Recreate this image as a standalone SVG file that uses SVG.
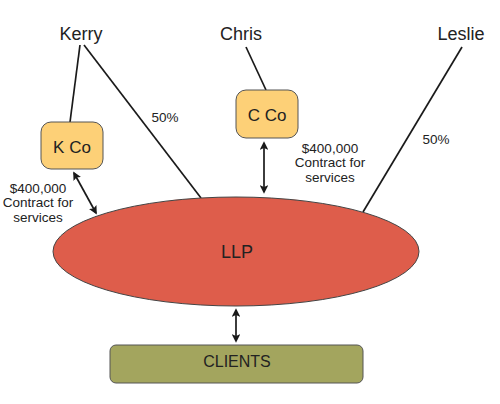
<svg xmlns="http://www.w3.org/2000/svg" width="500" height="404" viewBox="0 0 500 404">
<defs>
<style>
text{font-family:"Liberation Sans",Arial,sans-serif;fill:#222;text-anchor:middle}
.name{font-size:18px}
.co{fill:#FDD077;stroke:#555;stroke-width:1}
.lbl{font-size:13.5px}
.ln{stroke:#1a1a1a;stroke-width:1.7;fill:none}
.ar{stroke:#1a1a1a;stroke-width:1.7;fill:none;marker-start:url(#ah);marker-end:url(#ah)}
</style>
<marker id="ah" viewBox="0 0 10 10" refX="8" refY="5" markerWidth="5" markerHeight="5" orient="auto-start-reverse" markerUnits="strokeWidth">
<path d="M0,0 L10,5 L0,10 L2,5 Z" fill="#1a1a1a"/>
</marker>
</defs>
<rect width="500" height="404" fill="#fff"/>
<g id="connectors">
<line class="ln" x1="80" y1="45" x2="70" y2="122"/>
<line class="ln" x1="84" y1="45" x2="201" y2="198"/>
<line class="ln" x1="246" y1="47" x2="266" y2="90"/>
<line class="ln" x1="462" y1="47" x2="363" y2="212"/>
<line class="ar" x1="74" y1="173" x2="96" y2="213"/>
<line class="ar" x1="264" y1="143" x2="264" y2="192"/>
<line class="ar" x1="236" y1="310" x2="236" y2="341"/>
<text class="lbl" x="165" y="122">50%</text>
<text class="lbl" x="436" y="144">50%</text>
<text class="lbl"><tspan x="38" y="192.5">$400,000</tspan><tspan x="38" y="207">Contract for</tspan><tspan x="38" y="221.5">services</tspan></text>
<text class="lbl"><tspan x="330" y="152.5">$400,000</tspan><tspan x="330" y="167">Contract for</tspan><tspan x="330" y="181.5">services</tspan></text>
</g>
<g id="kerry"><text class="name" x="81" y="40">Kerry</text></g>
<g id="chris"><text class="name" x="241" y="40">Chris</text></g>
<g id="leslie"><text class="name" x="461" y="40">Leslie</text></g>
<g id="kco"><rect class="co" x="41" y="122" width="62" height="47" rx="10"/><text x="72" y="153" font-size="17">K Co</text></g>
<g id="cco"><rect class="co" x="236" y="90" width="62" height="48" rx="10"/><text x="267" y="121" font-size="17">C Co</text></g>
<g id="llp"><ellipse cx="236" cy="251.5" rx="183" ry="54.5" fill="#DE5D4B" stroke="#444" stroke-width="1"/><text x="237" y="258" font-size="18">LLP</text></g>
<g id="clients"><rect x="110" y="345" width="253" height="38" rx="6" fill="#A3A55E" stroke="#555" stroke-width="1"/><text x="237" y="367" font-size="16">CLIENTS</text></g>
</svg>
